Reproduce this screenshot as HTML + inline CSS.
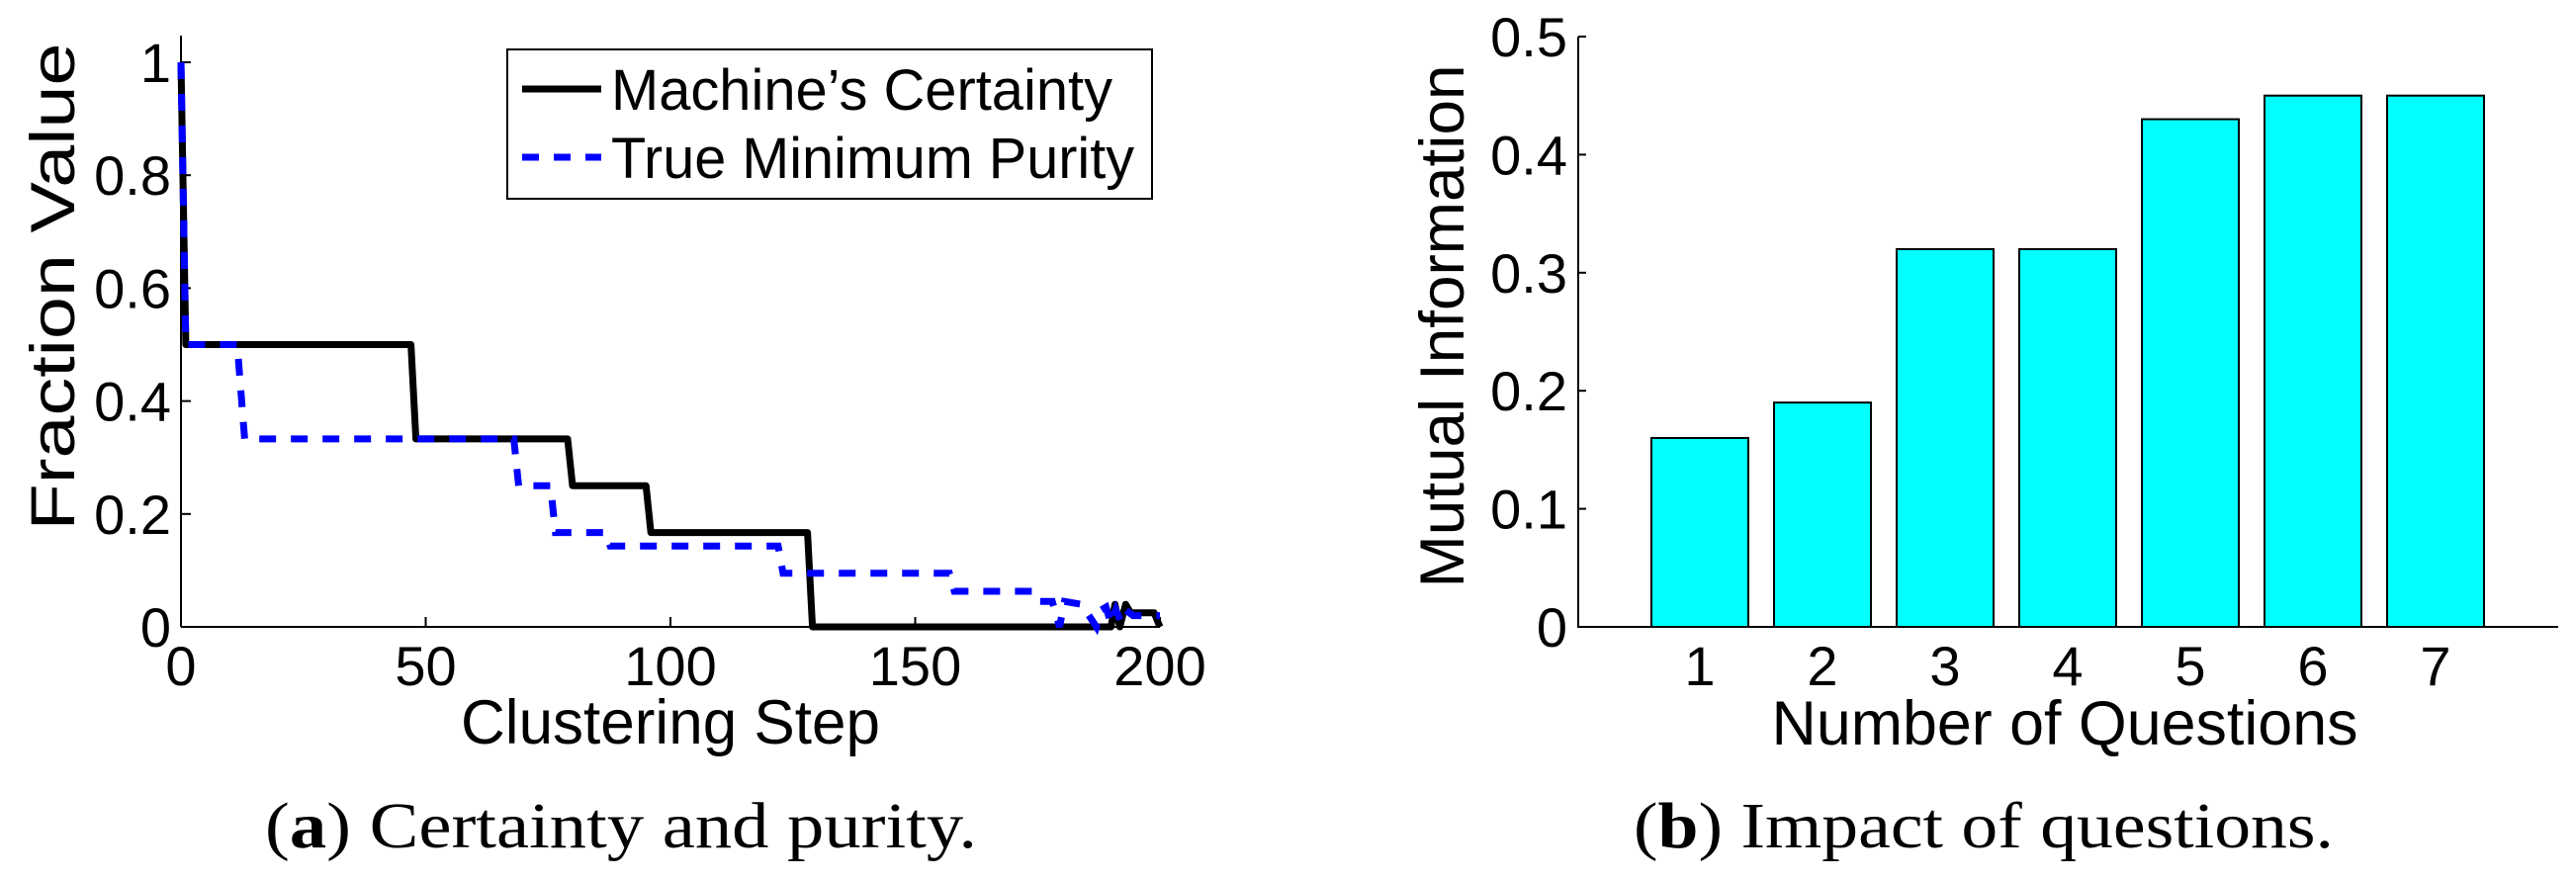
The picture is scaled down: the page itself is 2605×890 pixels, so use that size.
<!DOCTYPE html>
<html><head><meta charset="utf-8"><style>
html,body{margin:0;padding:0;background:#fff;}
svg{display:block;}
.t{font-family:"Liberation Sans",sans-serif;fill:#000;}
.c{font-family:"Liberation Serif",serif;fill:#000;}
</style></head><body>
<svg id="fig" width="2605" height="890" viewBox="0 0 2605 890">
<g id="left"></g>
<g id="right"></g>
<text class="c" x="268" y="857" font-size="66" textLength="720" lengthAdjust="spacingAndGlyphs">(<tspan font-weight="bold">a</tspan>) Certainty and purity.</text>
<text class="c" x="1652" y="857" font-size="66" textLength="708" lengthAdjust="spacingAndGlyphs">(<tspan font-weight="bold">b</tspan>) Impact of questions.</text>
</svg>
<script>
// ---- Left chart data ----
const certaintyX = [0,1,47,48,79,80,95,96,128,129,190,190.8,191.8,193,194,195,198.8,200];
const certaintyY = [1,0.5,0.5,0.333,0.333,0.25,0.25,0.167,0.167,0,0,0.04,0,0.04,0.025,0.025,0.025,0];
const purityX = [0,1,11.5,13,68,69,75.5,76.5,86.7,87.7,122,123,157,158,174.5,175.5,178,179.5,180.5,184,187,188,189,190,191,192,193,194.5,198,200];
const purityY = [1,0.5,0.5,0.333,0.333,0.25,0.25,0.167,0.167,0.143,0.143,0.095,0.095,0.063,0.063,0.045,0.045,0,0.045,0.04,0,0.03,0.035,0.005,0.03,0.01,0.03,0.02,0.02,0.02];
const leftXTicks = [0,50,100,150,200];
const leftYTicks = [0,0.2,0.4,0.6,0.8,1];
const leftYTickLabels = ["0","0.2","0.4","0.6","0.8","1"];
// ---- Right chart data ----
const questionCats = [1,2,3,4,5,6,7];
const mutualInfo = [0.16,0.19,0.32,0.32,0.43,0.45,0.45];
const rightYTicks = [0,0.1,0.2,0.3,0.4,0.5];
const rightYTickLabels = ["0","0.1","0.2","0.3","0.4","0.5"];

const NS="http://www.w3.org/2000/svg";
function mk(tag,parent,attrs){const e=document.createElementNS(NS,tag);for(const k in attrs)e.setAttribute(k,attrs[k]);parent.appendChild(e);return e;}

// Left axes
const L=document.getElementById('left');
const lx=v=>183+(v/200)*990;
const ly=v=>634-v*571;
let e;
e=mk('line',L,{x1:183,y1:36,x2:183,y2:634,stroke:'#000','stroke-width':2});


e=mk('line',L,{x1:183,y1:634,x2:1173,y2:634,stroke:'#000','stroke-width':2});


leftXTicks.forEach(v=>{
  e=mk('line',L,{x1:lx(v),y1:634,x2:lx(v),y2:624,stroke:'#000','stroke-width':2});
  
  
  e=mk('text',L,{x:lx(v),y:693,'font-size':56,'text-anchor':'middle',class:'t'});
  e.textContent=String(v);
  
  
});
leftYTicks.forEach((v,i)=>{
  e=mk('line',L,{x1:183,y1:ly(v),x2:193,y2:ly(v),stroke:'#000','stroke-width':2});
  
  
  e=mk('text',L,{x:173,y:ly(v)+20,'font-size':56,'text-anchor':'end',class:'t'});
  e.textContent=leftYTickLabels[i];
  
  
});
e=mk('text',L,{x:678,y:752,'font-size':63,'text-anchor':'middle',class:'t',textLength:424,lengthAdjust:'spacingAndGlyphs'});
e.textContent='Clustering Step';


e=mk('text',L,{x:0,y:0,'font-size':63,'text-anchor':'middle',class:'t',transform:'translate(75,290) rotate(-90)',textLength:493,lengthAdjust:'spacingAndGlyphs'});
e.textContent='Fraction Value';



function pts(xs,ys){return xs.map((x,i)=>lx(x).toFixed(1)+','+ly(ys[i]).toFixed(1)).join(' ');}
e=mk('polyline',L,{points:pts(certaintyX,certaintyY),fill:'none',stroke:'#000','stroke-width':7,'stroke-linejoin':'round'});


e=mk('polyline',L,{points:pts(purityX,purityY),fill:'none',stroke:'#0000ff','stroke-width':7,'stroke-dasharray':'17 15'});



// Legend
const G=mk('g',L,{});


e=mk('rect',G,{x:513,y:50,width:652,height:151,fill:'#fff',stroke:'#000','stroke-width':2});


e=mk('line',G,{x1:528,y1:90,x2:608,y2:90,stroke:'#000','stroke-width':7});


e=mk('text',G,{x:618,y:111,'font-size':58,class:'t',textLength:507,lengthAdjust:'spacingAndGlyphs'});
e.textContent='Machine\u2019s Certainty';


e=mk('line',G,{x1:528,y1:159,x2:608,y2:159,stroke:'#0000ff','stroke-width':7,'stroke-dasharray':'17 15'});


e=mk('text',G,{x:618,y:180,'font-size':58,class:'t',textLength:529,lengthAdjust:'spacingAndGlyphs'});
e.textContent='True Minimum Purity';



// Right chart
const R=document.getElementById('right');
const rx=v=>1595+v*124;
const ry=v=>634-v*1194;
questionCats.forEach((c,i)=>{
  e=mk('rect',R,{x:rx(c)-49,y:ry(mutualInfo[i]),width:98,height:634-ry(mutualInfo[i]),fill:'#00ffff',stroke:'#000','stroke-width':2});
  
  
  e=mk('text',R,{x:rx(c),y:693,'font-size':56,'text-anchor':'middle',class:'t'});
  e.textContent=String(c);
  
  
});
e=mk('line',R,{x1:1596,y1:37,x2:1596,y2:634,stroke:'#000','stroke-width':2});


e=mk('line',R,{x1:1595,y1:634,x2:2587,y2:634,stroke:'#000','stroke-width':2});


rightYTicks.forEach((v,i)=>{
  e=mk('line',R,{x1:1596,y1:ry(v),x2:1604,y2:ry(v),stroke:'#000','stroke-width':2});
  
  
  e=mk('text',R,{x:1585,y:ry(v)+20,'font-size':56,'text-anchor':'end',class:'t'});
  e.textContent=rightYTickLabels[i];
  
  
});
e=mk('text',R,{x:2088,y:753,'font-size':63,'text-anchor':'middle',class:'t',textLength:593,lengthAdjust:'spacingAndGlyphs'});
e.textContent='Number of Questions';


e=mk('text',R,{x:0,y:0,'font-size':63,'text-anchor':'middle',class:'t',transform:'translate(1480,330) rotate(-90)',textLength:529,lengthAdjust:'spacingAndGlyphs'});
e.textContent='Mutual Information';


</script>
</body></html>
